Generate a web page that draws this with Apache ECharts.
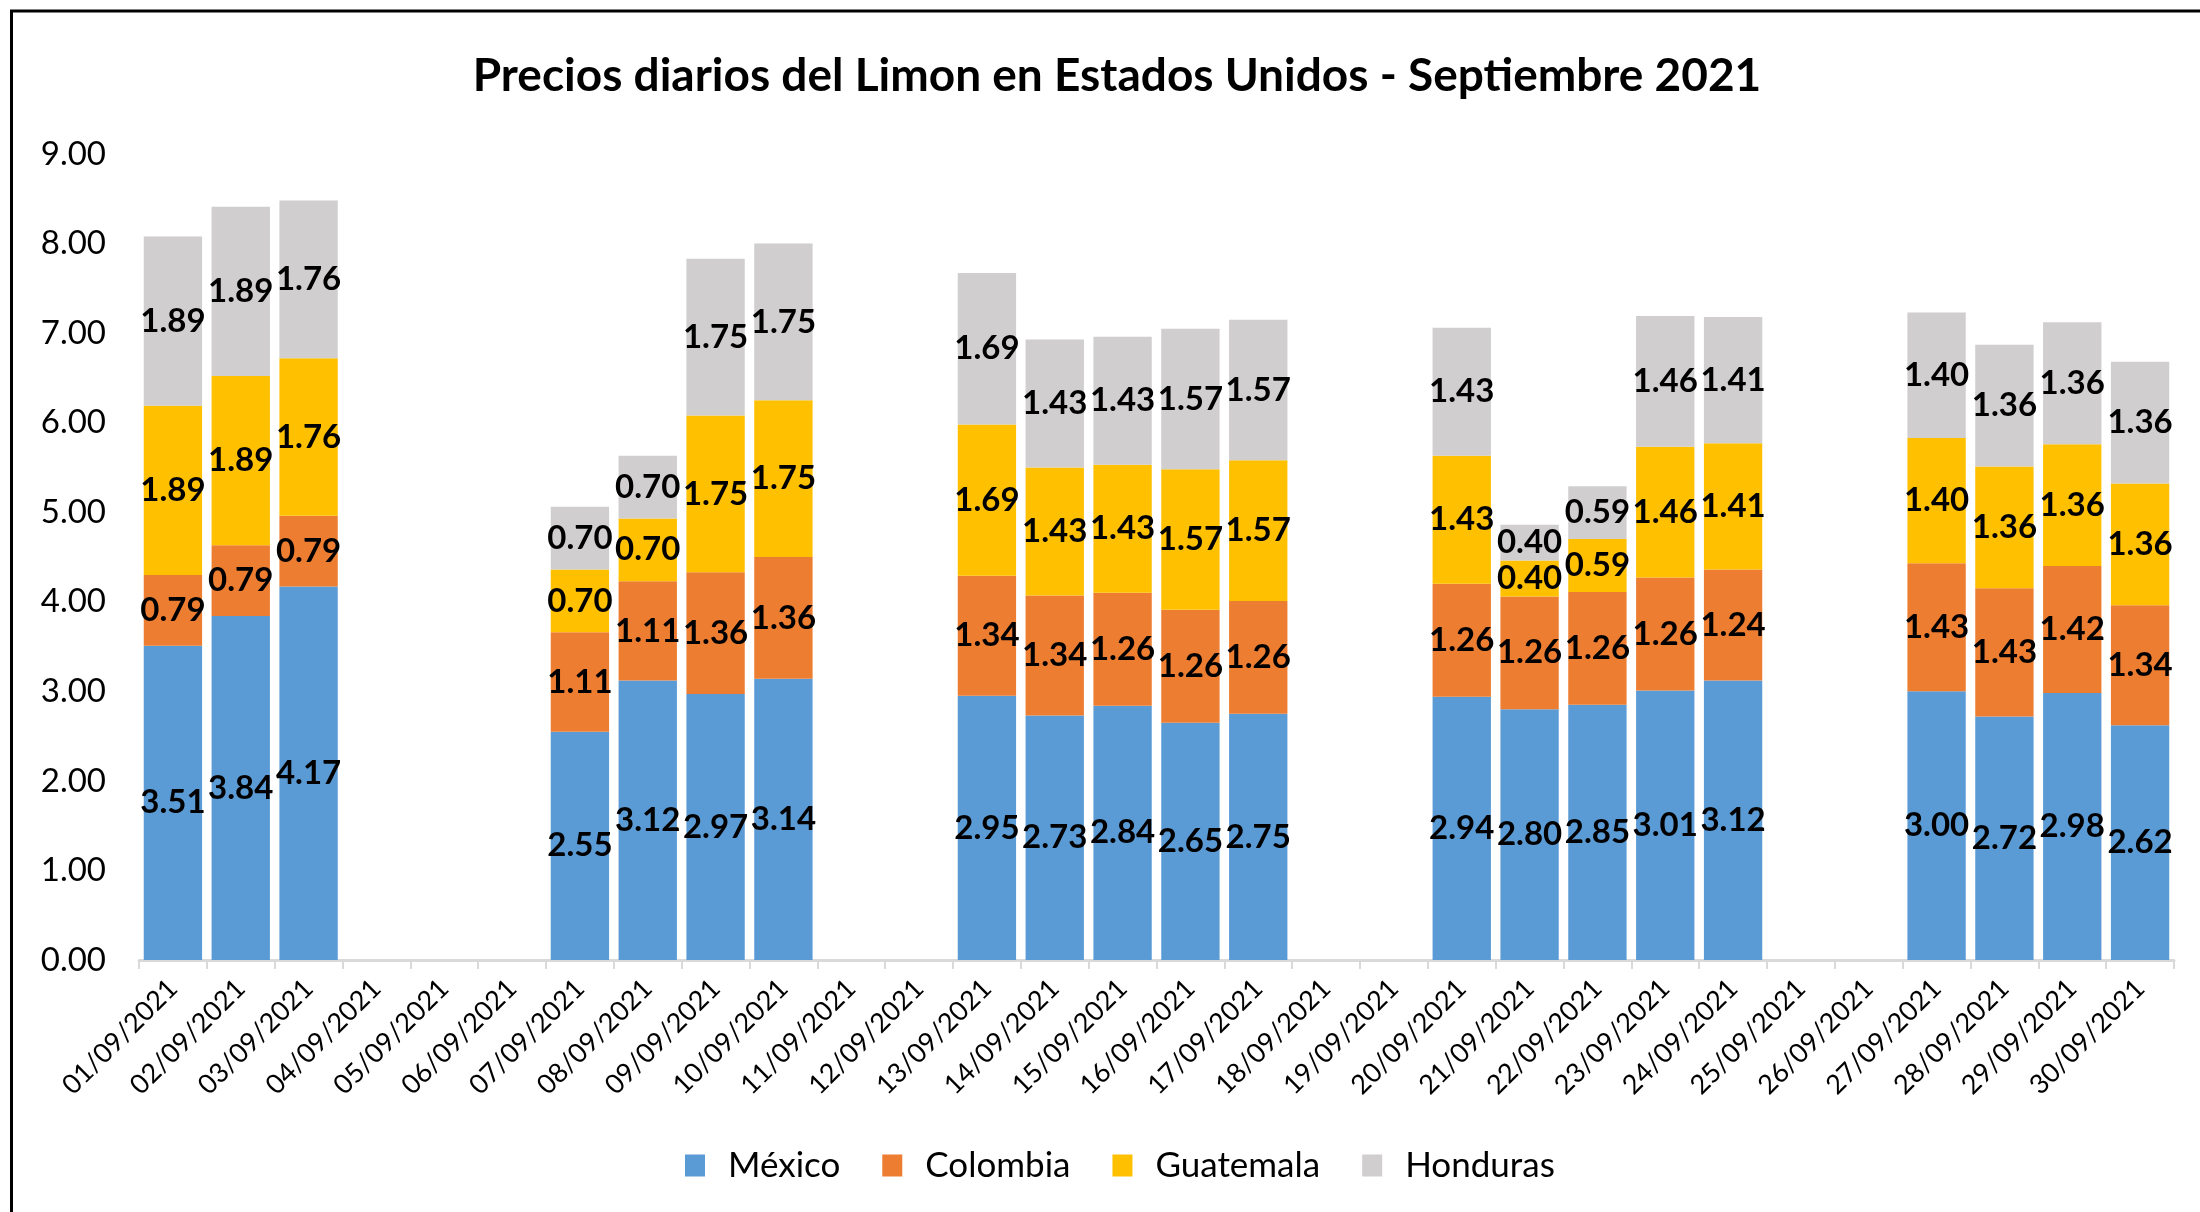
<!DOCTYPE html>
<html>
<head>
<meta charset="utf-8">
<script src="https://cdn.jsdelivr.net/npm/echarts@6/dist/echarts.min.js"></script>
<style>
  html, body { margin: 0; padding: 0; background: #fff; }
  #chart { width: 2200px; height: 1212px; }
</style>
</head>
<body>
<div id="chart"></div>
<script>
var chart = echarts.init(document.getElementById('chart'));

// eje x: dias de septiembre
var dias = ['01/09/2021','02/09/2021','03/09/2021','04/09/2021','05/09/2021','06/09/2021',
            '07/09/2021','08/09/2021','09/09/2021','10/09/2021','11/09/2021','12/09/2021',
            '13/09/2021','14/09/2021','15/09/2021','16/09/2021','17/09/2021','18/09/2021',
            '19/09/2021','20/09/2021','21/09/2021','22/09/2021','23/09/2021','24/09/2021',
            '25/09/2021','26/09/2021','27/09/2021','28/09/2021','29/09/2021','30/09/2021'];
var paises = ['México', 'Colombia', 'Guatemala', 'Honduras'];
// precios por pais (null = sin dato)
var mexico    = [3.51, 3.84, 4.17, null, null, null, 2.55, 3.12, 2.97, 3.14, null, null,
                 2.95, 2.73, 2.84, 2.65, 2.75, null, null, 2.94, 2.80, 2.85, 3.01, 3.12,
                 null, null, 3.00, 2.72, 2.98, 2.62];
var colombia  = [0.79, 0.79, 0.79, null, null, null, 1.11, 1.11, 1.36, 1.36, null, null,
                 1.34, 1.34, 1.26, 1.26, 1.26, null, null, 1.26, 1.26, 1.26, 1.26, 1.24,
                 null, null, 1.43, 1.43, 1.42, 1.34];
var guatemala = [1.89, 1.89, 1.76, null, null, null, 0.70, 0.70, 1.75, 1.75, null, null,
                 1.69, 1.43, 1.43, 1.57, 1.57, null, null, 1.43, 0.40, 0.59, 1.46, 1.41,
                 null, null, 1.40, 1.36, 1.36, 1.36];
var honduras  = [1.89, 1.89, 1.76, null, null, null, 0.70, 0.70, 1.75, 1.75, null, null,
                 1.69, 1.43, 1.43, 1.57, 1.57, null, null, 1.43, 0.40, 0.59, 1.46, 1.41,
                 null, null, 1.40, 1.36, 1.36, 1.36];
var colores = ['#5B9BD5', '#ED7D31', '#FFC000', '#D0CECE'];

var fuente = 'Lato, "Liberation Sans", sans-serif';

function serie(nombre, datos, color) {
    return {
        name: nombre,
        type: 'bar',
        stack: 'total',
        barCategoryGap: '14%',
        itemStyle: { color: color },
        label: {
            show: true,
            position: 'inside',
            color: '#000',
            fontFamily: fuente,
            fontWeight: 'bold',
            fontSize: 33,
            formatter: function (p) { return p.value.toFixed(2); }
        },
        data: datos
    };
}

option = {
    animation: false,
    backgroundColor: '#fff',
    title: {
        text: 'Precios diarios del Limon en Estados Unidos - Septiembre 2021',
        left: 1112,
        top: 48,
        textAlign: 'center',
        textStyle: {
            fontFamily: fuente,
            fontWeight: 'bold',
            fontSize: 46,
            color: '#000'
        }
    },
    legend: {
        data: paises,
        left: 680,
        top: 1143,
        itemWidth: 20,
        itemHeight: 22,
        itemGap: 42,
        icon: 'rect',
        textStyle: {
            fontFamily: fuente,
            fontSize: 35,
            color: '#000',
            padding: [0, 0, 0, 18]
        }
    },
    grid: {
        left: 139,
        right: 26,
        top: 154,
        bottom: 252
    },
    xAxis: {
        type: 'category',
        data: dias,
        axisLine: { lineStyle: { color: '#D9D9D9', width: 3 } },
        axisTick: { show: true, length: 9, lineStyle: { color: '#D9D9D9', width: 2 } },
        axisLabel: {
            rotate: 45,
            interval: 0,
            margin: 24,
            fontFamily: fuente,
            fontSize: 27,
            color: '#000'
        }
    },
    yAxis: {
        type: 'value',
        min: 0,
        max: 9,
        interval: 1,
        axisLine: { show: false },
        axisTick: { show: false },
        splitLine: { show: false },
        axisLabel: {
            margin: 33,
            fontFamily: fuente,
            fontSize: 33,
            color: '#000',
            formatter: function (v) { return v.toFixed(2); }
        }
    },
    graphic: [
        { type: 'line', shape: { x1: 10, y1: 11, x2: 2200, y2: 11 }, style: { stroke: '#000', lineWidth: 3 } },
        { type: 'line', shape: { x1: 11.5, y1: 10, x2: 11.5, y2: 1212 }, style: { stroke: '#000', lineWidth: 3 } }
    ],
    series: [
        serie(paises[0], mexico, colores[0]),
        serie(paises[1], colombia, colores[1]),
        serie(paises[2], guatemala, colores[2]),
        serie(paises[3], honduras, colores[3])
    ]
};
chart.setOption(option);
</script>
</body>
</html>
